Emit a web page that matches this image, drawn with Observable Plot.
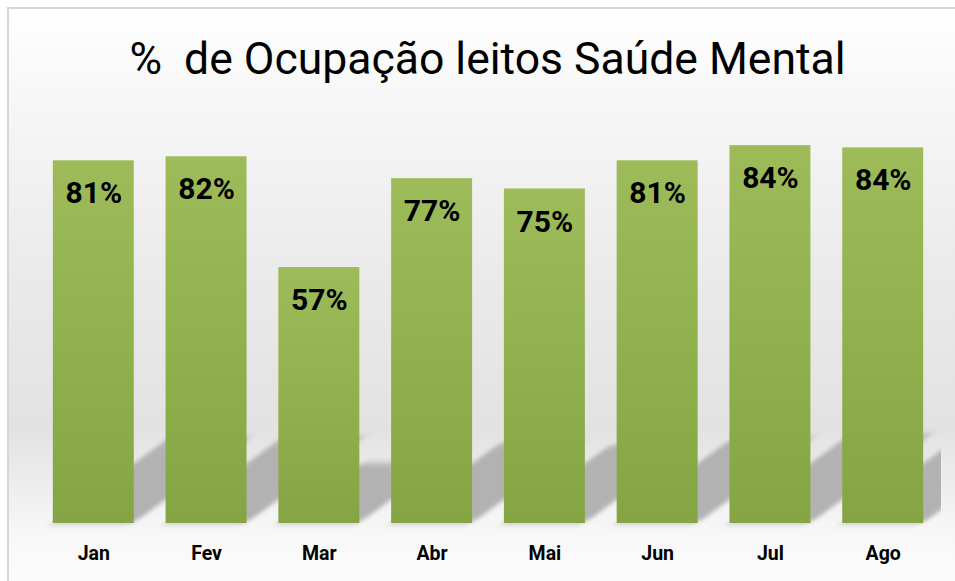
<!DOCTYPE html>
<html>
<head>
<meta charset="utf-8">
<script src="https://cdn.jsdelivr.net/npm/d3@7"></script>
<script src="https://cdn.jsdelivr.net/npm/@observablehq/plot@0.6"></script>
<style>
  html, body { margin: 0; padding: 0; width: 955px; height: 581px; overflow: hidden; background: #fff; }
  #frame {
    position: absolute; left: 7px; top: 7px; width: 1100px; height: 700px;
    border-left: 2px solid #d6d6d6; border-top: 2px solid #d6d6d6;
    background: linear-gradient(to bottom, #ffffff 0px, #f7f7f7 90px, #ebebeb 250px, #e2e2e2 420px, #ececec 470px, #f6f6f6 516px, #fbfbfb 560px, #fdfdfd 700px);
  }
  #title {
    position: absolute; left: 0; width: 975px; top: 37px; text-align: center;
    font-family: Roboto, sans-serif; font-size: 44.5px; line-height: 44px; color: #000; white-space: pre;
  }
  #chart { position: absolute; left: 0; top: 110px; }
</style>
</head>
<body>
<div id="frame"></div>
<div id="title">%  de Ocupação leitos Saúde Mental</div>
<div id="chart"></div>
<script>
const months = ["Jan", "Fev", "Mar", "Abr", "Mai", "Jun", "Jul", "Ago"];
const values = [81.2, 82.1, 57.3, 77.2, 74.9, 81.2, 84.6, 84.1];
const labels = ["81%", "82%", "57%", "77%", "75%", "81%", "84%", "84%"];

const data = months.map((m, i) => ({month: m, value: values[i], label: labels[i]}));
const shadowScale = 0.235;

const chart = Plot.plot({
  width: 955,
  height: 471,
  marginLeft: 21,
  marginRight: 0,
  marginTop: 11,
  marginBottom: 58,
  x: {domain: months, padding: 0.282, round: false, tickSize: 0, tickPadding: 23, label: null},
  y: {domain: [0, 90], axis: null},
  style: {background: "transparent", fontFamily: "Roboto, sans-serif", fontSize: "19.5px", fontWeight: "bold", color: "#000", overflow: "visible"},
  marks: [
    Plot.barY(data, {x: "month", y: d => d.value * shadowScale, fill: "#b2b2b2"}),
    Plot.barY(data, {x: "month", y: "value", fill: "url(#barGrad)"}),
    Plot.text(data, {x: "month", y: "value", text: "label", dy: 33, fontSize: 30, fontWeight: "bold", fill: "#000"})
  ]
});

const ns = "http://www.w3.org/2000/svg";
const defs = document.createElementNS(ns, "defs");
defs.innerHTML = `
  <linearGradient id="barGrad" x1="0" y1="0" x2="0" y2="1">
    <stop offset="0" stop-color="#9dbc59"/>
    <stop offset="1" stop-color="#85a443"/>
  </linearGradient>
  <filter id="shadowBlur" x="-20%" y="-20%" width="140%" height="140%">
    <feGaussianBlur stdDeviation="3.5"/>
  </filter>
  <clipPath id="plotClip"><rect x="0" y="-200" width="941" height="1000"/></clipPath>`;
chart.insertBefore(defs, chart.firstChild);

const base = chart.scale("y").apply(0);
const shadowG = chart.querySelectorAll('g[aria-label="bar"]')[0];
const clipWrap = document.createElementNS(ns, "g");
clipWrap.setAttribute("clip-path", "url(#plotClip)");
const wrap = document.createElementNS(ns, "g");
wrap.setAttribute("transform", `translate(0,${base}) skewX(-53.7) translate(0,${-base})`);
wrap.setAttribute("filter", "url(#shadowBlur)");
shadowG.parentNode.insertBefore(clipWrap, shadowG);
clipWrap.appendChild(wrap);
wrap.appendChild(shadowG);

document.getElementById("chart").appendChild(chart);
</script>
</body>
</html>
